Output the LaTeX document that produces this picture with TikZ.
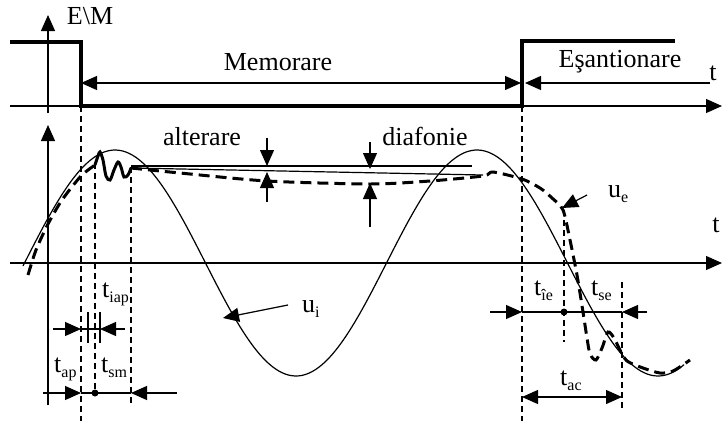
\documentclass[tikz,border=0pt]{standalone}
\usepackage{fontspec}
\setmainfont{Liberation Serif}
\usetikzlibrary{arrows.meta}
\newcommand\tsb[2]{#1\raisebox{-5pt}{\fontsize{16}{16}\selectfont #2}}
\begin{document}
\begin{tikzpicture}[x=1pt,y=-1pt,
  lbl/.style={font=\fontsize{26}{30}\selectfont, inner sep=0pt},
  thinl/.style={line width=1.2pt},
  tip/.style={line width=1.2pt,-{Triangle[length=16pt,width=14pt]}},
  dtip/.style={line width=1.2pt,{Triangle[length=16pt,width=14pt]}-{Triangle[length=16pt,width=14pt]}},
  vdash/.style={line width=1.1pt, dash pattern=on 6pt off 4pt},
  sig/.style={line width=3.5pt},
  ue/.style={line width=3pt, dash pattern=on 11pt off 6pt},
  uesolid/.style={line width=3pt},
  dotc/.style={circle, fill=black, inner sep=0pt, minimum size=7pt}
  ]
\useasboundingbox (0,0) rectangle (722,421);

% ---------- top diagram ----------
\coordinate (tvb) at (48,113); \coordinate (tvt) at (48,15);
\draw[tip] (tvb) -- (tvt);
\coordinate (tbl) at (10,106); \coordinate (tbr) at (722,106);
\draw[tip] (tbl) -- (tbr);
\draw[sig] (10,42) -- (81,42) -- (81,106) -- (522,106) -- (522,41) -- (675,41);
\node[lbl, anchor=base] (em) at (90,24) {E\textbackslash M};

\coordinate (ml) at (81,83); \coordinate (mr) at (521,83);
\draw[dtip] (ml) -- (mr);
\node[lbl, anchor=base] (mem) at (278,70) {Memorare};
\coordinate (el) at (525,83); \coordinate (er) at (710,83);
\draw[tip] (er) -- (el);
\node[lbl, anchor=base] (esa) at (620,67) {Eşantionare};
\node[lbl, anchor=base] (t1) at (713,80) {t};

% ---------- bottom axes ----------
\coordinate (bvb) at (48,405); \coordinate (bvt) at (48,125);
\draw[tip] (bvb) -- (bvt);
\coordinate (bhl) at (10,263); \coordinate (bhr) at (722,263);
\draw[tip] (bhl) -- (bhr);
\node[lbl, anchor=base] (t2) at (716,232) {t};

% ---------- dashed verticals ----------
\draw[vdash] (81,106) -- (81,421);
\draw[vdash] (95,163) -- (95,393);
\draw[vdash] (131,167) -- (131,403);
\draw[vdash] (522,106) -- (522,421);
\draw[vdash] (564,210) -- (564,342);
\draw[vdash] (622,282) -- (622,408);

% ---------- reference lines ----------
\draw[thinl] (131,166) -- (472,166);
\draw[thinl] (131,168) -- (483,175);

% ---------- u_i ----------
\draw[thinl] plot[domain=23:684,samples=200,smooth] (\x,{263-113*cos((\x-115)/362*360)});

% ---------- u_e ----------
\draw[ue] plot[smooth,tension=0.45] coordinates {
 (28,275) (36,250) (48,224) (62,200) (81,176) (95,165)};
\draw[uesolid] plot[smooth,tension=0.5] coordinates {
 (95,165) (98,156) (100,152) (103,160) (106,176) (110,180) (114,170) (118,162)
 (121,167) (124,177) (128,175) (131,168)};
\draw[ue] plot[smooth,tension=0.45] coordinates {
 (131,168) (180,173) (267,181) (370,184) (430,181) (483,176) (493,172) (522,179)
 (540,188) (552,198) (563,210) (570,240) (577,275) (583,312) (587,338)
 (590,354) (596,360) (602,348) (608,332) (614,338) (620,350) (627,361)
 (643,368) (660,373) (673,371) (690,360)};

% ---------- alterare / diafonie ----------
\draw[tip] (267,138) -- (267,166);
\draw[tip] (267,202) -- (267,172);
\node[lbl, anchor=base] (alt) at (202,145) {alterare};
\draw[tip] (370,142) -- (370,169);
\draw[tip] (370,227) -- (370,183);
\node[lbl, anchor=base] (dia) at (425,145) {diafonie};

% ---------- labels u_i, u_e ----------
\node[lbl, anchor=base west] (ui) at (302,312) {\tsb{u}{i}};
\coordinate (uia) at (288,305); \coordinate (uit) at (223,318);
\draw[tip] (uia) -- (uit);
\node[lbl, anchor=base west] (ue) at (608,197) {\tsb{u}{e}};
\coordinate (uea) at (587,195); \coordinate (uet) at (562,208);
\draw[tip] (uea) -- (uet);

% ---------- left timing marks ----------
\coordinate (ia) at (53,329); \coordinate (ib) at (81,329);
\coordinate (ic) at (125,329); \coordinate (id) at (100,329);
\draw[tip] (ia) -- (ib);
\draw[thinl] (ib) -- (id);
\draw[tip] (ic) -- (id);
\draw[thinl] (88,312) -- (88,343);
\draw[thinl] (100,312) -- (100,343);
\node[lbl, anchor=base west] (tiap) at (102,297) {\tsb{t}{iap}};

\coordinate (aa) at (43,393); \coordinate (ab) at (81,393);
\coordinate (ac) at (131,393); \coordinate (ad) at (177,393);
\draw[tip] (aa) -- (ab);
\draw[thinl] (ab) -- (ac);
\draw[tip] (ad) -- (ac);
\node[dotc] (d1) at (95,393) {};
\node[lbl, anchor=base west] (tap) at (54,372) {\tsb{t}{ap}};
\node[lbl, anchor=base west] (tsm) at (101,372) {\tsb{t}{sm}};

% ---------- right timing marks ----------
\coordinate (ra) at (490,312); \coordinate (rb) at (522,312);
\coordinate (rc) at (622,312); \coordinate (rd) at (647,312);
\draw[tip] (ra) -- (rb);
\draw[thinl] (rb) -- (rc);
\draw[tip] (rd) -- (rc);
\node[dotc] (d2) at (564,312) {};
\node[lbl, anchor=base west] (tie) at (534,295) {\tsb{t}{îe}};
\node[lbl, anchor=base west] (tse) at (591,295) {\tsb{t}{se}};

\coordinate (ca) at (522,397); \coordinate (cb) at (622,397);
\draw[dtip] (ca) -- (cb);
\node[lbl, anchor=base west] (tac) at (560,385) {\tsb{t}{ac}};
\end{tikzpicture}
\end{document}
